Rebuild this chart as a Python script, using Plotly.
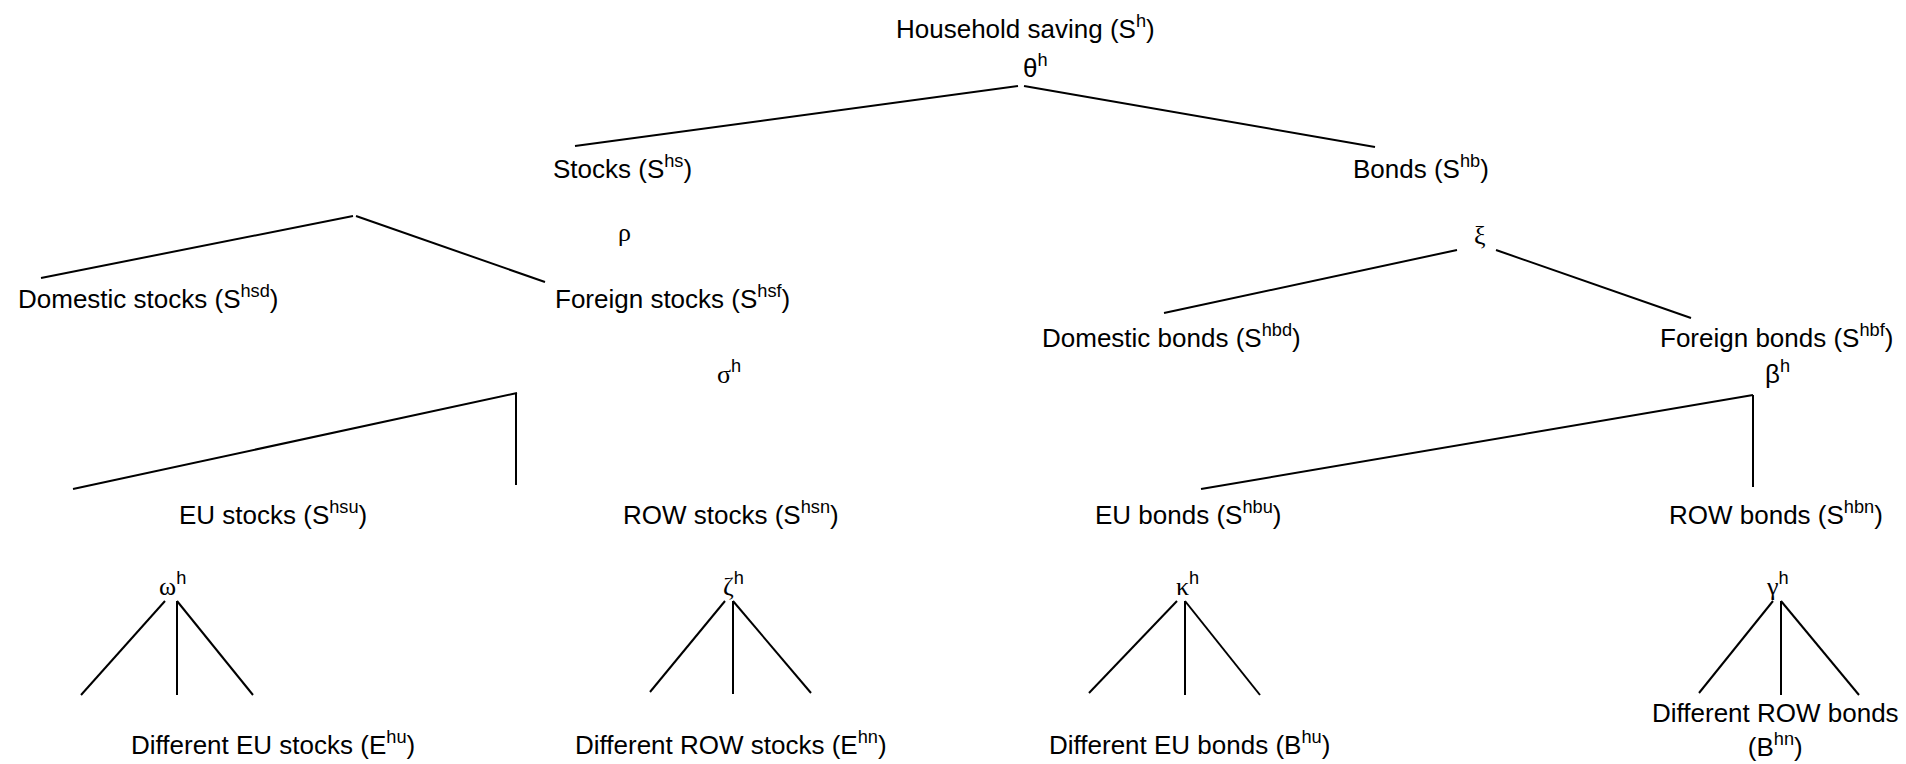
import plotly.graph_objects as go

# ---- Node labels (text content) ----
node_labels = [
    "Household saving (S<sup>h</sup>)",
    "Stocks (S<sup>hs</sup>)",
    "Bonds (S<sup>hb</sup>)",
    "Domestic stocks (S<sup>hsd</sup>)",
    "Foreign stocks (S<sup>hsf</sup>)",
    "Domestic bonds (S<sup>hbd</sup>)",
    "Foreign bonds (S<sup>hbf</sup>)",
    "EU stocks (S<sup>hsu</sup>)",
    "ROW stocks (S<sup>hsn</sup>)",
    "EU bonds (S<sup>hbu</sup>)",
    "ROW bonds (S<sup>hbn</sup>)",
    "Different EU stocks (E<sup>hu</sup>)",
    "Different ROW stocks (E<sup>hn</sup>)",
    "Different EU bonds (B<sup>hu</sup>)",
    "Different ROW bonds<br>(B<sup>hn</sup>)",
]
node_x = [1025, 622, 1421, 148, 672, 1171, 1776, 273, 731, 1188, 1776, 273, 731, 1189, 1775]
node_y = [27, 167, 167, 297, 297, 336, 336, 513, 513, 513, 513, 743, 743, 743, 730]

# ---- Elasticity parameters (Greek symbols) ----
param_symbols = ["θ", "ρ", "ξ", "σ", "β", "ω", "ζ", "κ", "γ"]
param_sup = ["h", "", "", "h", "h", "h", "h", "h", "h"]
param_serif = [False, True, True, True, False, True, True, True, True]
param_x = [1035, 624, 1480, 729, 1777, 172, 733, 1187, 1777]
param_y = [66, 232, 235, 372, 372, 584, 584, 584, 584]

# ---- Tree branches: (x0, y0, x1, y1) ----
edge_x0 = [1018, 1024, 353, 356, 1457, 1496, 517, 516, 1753, 1753,
           165, 177, 177, 725, 733, 733, 1177, 1185, 1185, 1773, 1781, 1781]
edge_y0 = [86, 86, 216, 216, 250, 250, 393, 393, 395, 395,
           601, 601, 601, 601, 601, 601, 601, 601, 601, 601, 601, 601]
edge_x1 = [575, 1375, 41, 545, 1164, 1691, 73, 516, 1201, 1753,
           81, 177, 253, 650, 733, 811, 1089, 1185, 1260, 1699, 1781, 1859]
edge_y1 = [146, 147, 278, 282, 313, 318, 489, 485, 489, 487,
           695, 695, 695, 692, 694, 693, 693, 695, 695, 693, 695, 695]

W, H = 1906, 764
FONT = "Liberation Sans, Arial, sans-serif"
SERIF = "Liberation Serif, Times New Roman, serif"

lx, ly = [], []
for a, b, c, d in zip(edge_x0, edge_y0, edge_x1, edge_y1):
    lx += [a, c, None]
    ly += [b, d, None]

fig = go.Figure()
fig.add_trace(go.Scatter(x=lx, y=ly, mode="lines",
                         line=dict(color="black", width=2),
                         hoverinfo="skip", showlegend=False))

annotations = []
for t, x, y in zip(node_labels, node_x, node_y):
    annotations.append(dict(x=x, y=y, xref="x", yref="y", text=t, showarrow=False,
                            xanchor="center", yanchor="middle",
                            font=dict(family=FONT, size=26, color="black")))
for s, sp, serif, x, y in zip(param_symbols, param_sup, param_serif, param_x, param_y):
    if serif:
        txt = f'<span style="font-family:{SERIF}">{s}</span>'
    else:
        txt = s
    if sp:
        txt += f"<sup>{sp}</sup>"
    annotations.append(dict(x=x, y=y, xref="x", yref="y", text=txt, showarrow=False,
                            xanchor="center", yanchor="middle",
                            font=dict(family=FONT, size=26, color="black")))

fig.update_layout(
    width=W, height=H,
    margin=dict(l=0, r=0, t=0, b=0),
    paper_bgcolor="white", plot_bgcolor="white",
    xaxis=dict(range=[0, W], visible=False, fixedrange=True),
    yaxis=dict(range=[H, 0], visible=False, fixedrange=True),
    annotations=annotations,
    showlegend=False,
)
fig.write_html("out.html",
               config={"displayModeBar": False},
               post_script="document.body.style.margin='0';document.body.style.overflow='hidden';")
